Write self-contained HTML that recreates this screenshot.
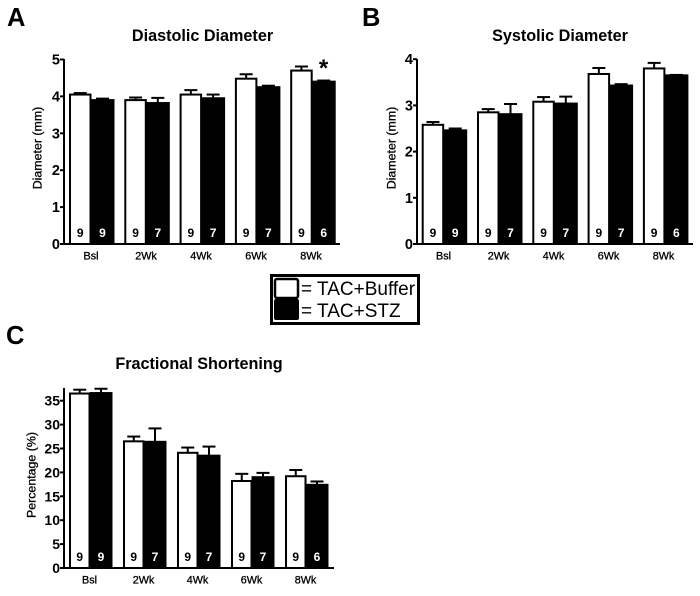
<!DOCTYPE html>
<html>
<head>
<meta charset="utf-8">
<style>
html,body{margin:0;padding:0;background:#fff;}
svg{display:block;}
text{font-family:"Liberation Sans",Arial,sans-serif;fill:#000;}
</style>
</head>
<body>
<svg id="fig" width="700" height="596" viewBox="0 0 700 596" xmlns="http://www.w3.org/2000/svg">
  <rect width="700" height="596" fill="#fff"/>
  <text x="7" y="26" font-size="25.5" font-weight="bold">A</text>
  <text x="362" y="26" font-size="25.5" font-weight="bold">B</text>
  <text x="6" y="344" font-size="25.5" font-weight="bold">C</text>
  <g>
    <rect x="271.5" y="275.5" width="147" height="48" fill="#fff" stroke="#000" stroke-width="3"/>
    <rect x="275" y="279" width="23" height="19" rx="2" fill="#fff" stroke="#000" stroke-width="2.5"/>
    <rect x="274" y="299" width="25" height="21" rx="2" fill="#000"/>
    <text x="301" y="295" font-size="19">= TAC+Buffer</text>
    <text x="301" y="317" font-size="19">= TAC+STZ</text>
  </g>
</svg>
<script>
var categories = ["Bsl", "2Wk", "4Wk", "6Wk", "8Wk"];
var bufferCounts = [9, 9, 9, 9, 9];
var stzCounts = [9, 7, 7, 7, 6];

var diastolicTicks = [0, 1, 2, 3, 4, 5];
var diastolicBuffer = [4.05, 3.90, 4.05, 4.48, 4.70];
var diastolicBufferErr = [0.04, 0.07, 0.12, 0.12, 0.11];
var diastolicStz = [3.90, 3.82, 3.95, 4.25, 4.40];
var diastolicStzErr = [0.04, 0.14, 0.10, 0.04, 0.03];

var systolicTicks = [0, 1, 2, 3, 4];
var systolicBuffer = [2.58, 2.85, 3.08, 3.68, 3.80];
var systolicBufferErr = [0.06, 0.07, 0.10, 0.13, 0.12];
var systolicStz = [2.46, 2.81, 3.04, 3.43, 3.65];
var systolicStzErr = [0.04, 0.22, 0.15, 0.03, 0.01];

var fractionalTicks = [0, 5, 10, 15, 20, 25, 30, 35];
var fractionalBuffer = [36.5, 26.5, 24.1, 18.2, 19.2];
var fractionalBufferErr = [0.8, 1.0, 1.1, 1.5, 1.3];
var fractionalStz = [36.6, 26.4, 23.5, 19.0, 17.4];
var fractionalStzErr = [0.9, 2.8, 1.9, 0.9, 0.7];

var NS = "http://www.w3.org/2000/svg";
var fig = document.getElementById("fig");

function make(parent, tag, attrs, txt) {
  var el = document.createElementNS(NS, tag);
  for (var k in attrs) el.setAttribute(k, attrs[k]);
  if (txt !== undefined) el.textContent = txt;
  parent.appendChild(el);
  return el;
}

function drawPanel(p) {
  var g = make(fig, "g", {});
  
  

  function y(v) { return p.y0 - (v / p.unit) * p.unitPx; }
  function x(i) { return p.firstBar + i * p.pitch; }

  var title = make(g, "text", {x: p.titleX, y: p.titleY, "font-size": 16.2, "font-weight": "bold", "text-anchor": "middle"}, p.title);
  
  

  var yTitle = make(g, "text", {transform: "translate(" + p.yTitleX + "," + p.yTitleY + ") rotate(-90)", "font-size": 12.4, "text-anchor": "middle", stroke: "#000", "stroke-width": 0.3}, p.yLabel);
  
  

  categories.forEach(function (cat, i) {
    var group = make(g, "g", {});
    
    

    function series(vals, errs, counts, left, width, isStz) {
      var top = y(vals[i]);
      var errTop = y(vals[i] + errs[i]);
      var cx = left + width / 2;
      var errLine = make(group, "line", {x1: cx, x2: cx, y1: top, y2: errTop, stroke: "#000", "stroke-width": 2});
      
      
      var cap = make(group, "line", {x1: cx - 6.5, x2: cx + 6.5, y1: errTop, y2: errTop, stroke: "#000", "stroke-width": 2});
      
      
      var bar = make(group, "rect", {x: left + 1, y: top, width: width - 2, height: p.y0 - top, fill: isStz ? "#000" : "#fff", stroke: "#000", "stroke-width": 2});
      
      
      var n = make(group, "text", {x: cx, y: p.y0 - 7, "font-size": 12, "font-weight": "bold", "text-anchor": "middle", style: "fill:" + (isStz ? "#fff" : "#000")}, counts[i]);
      
      
    }
    series(p.buffer, p.bufferErr, bufferCounts, x(i), p.barW, false);
    series(p.stz, p.stzErr, stzCounts, x(i) + p.barW - 1, p.barW + 1.5, true);

    var lab = make(group, "text", {x: p.catX + i * p.catPitch, y: p.y0 + 15.5, "font-size": 10.8, "text-anchor": "middle", stroke: "#000", "stroke-width": 0.3}, cat);
    
    
  });

  var yAxis = make(g, "line", {x1: p.axisX, x2: p.axisX, y1: p.y0 + 1, y2: p.axisTop, stroke: "#000", "stroke-width": 2});
  
  
  var xAxis = make(g, "line", {x1: p.axisX - 4, x2: p.axisEnd, y1: p.y0, y2: p.y0, stroke: "#000", "stroke-width": 2});
  
  

  p.ticks.forEach(function (t) {
    var tick = make(g, "line", {x1: p.axisX - 4, x2: p.axisX, y1: y(t), y2: y(t), stroke: "#000", "stroke-width": 2});
    
    
    var lab = make(g, "text", {x: p.axisX - 4, y: y(t) + 5, "font-size": p.tickSize, "font-weight": "bold", "text-anchor": "end"}, t);
    
    
  });
}

drawPanel({key: "diastolic", title: "Diastolic Diameter", titleX: 202.5, titleY: 41,
  yLabel: "Diameter (mm)", yTitleX: 41.5, yTitleY: 148, tickSize: 14.5,
  buffer: diastolicBuffer, bufferErr: diastolicBufferErr, stz: diastolicStz, stzErr: diastolicStzErr, ticks: diastolicTicks,
  unit: 1, unitPx: 36.9, y0: 244, axisX: 64, axisTop: 59, axisEnd: 340,
  firstBar: 69, pitch: 55.3, barW: 22.5, catX: 91, catPitch: 55});

drawPanel({key: "systolic", title: "Systolic Diameter", titleX: 560, titleY: 41,
  yLabel: "Diameter (mm)", yTitleX: 395.5, yTitleY: 148, tickSize: 14.5,
  buffer: systolicBuffer, bufferErr: systolicBufferErr, stz: systolicStz, stzErr: systolicStzErr, ticks: systolicTicks,
  unit: 1, unitPx: 46.2, y0: 244, axisX: 417, axisTop: 59, axisEnd: 693,
  firstBar: 421.7, pitch: 55.3, barW: 22.5, catX: 443.5, catPitch: 55});

drawPanel({key: "fractional", title: "Fractional Shortening", titleX: 199, titleY: 369,
  yLabel: "Percentage (%)", yTitleX: 35.5, yTitleY: 475, tickSize: 14,
  buffer: fractionalBuffer, bufferErr: fractionalBufferErr, stz: fractionalStz, stzErr: fractionalStzErr, ticks: fractionalTicks,
  unit: 5, unitPx: 23.9, y0: 568, axisX: 64, axisTop: 388, axisEnd: 334,
  firstBar: 69, pitch: 54, barW: 21.5, catX: 89.5, catPitch: 54});

var star = make(fig, "text", {x: 323.5, y: 76, "font-size": 24, "font-weight": "bold", "text-anchor": "middle"}, "*");


</script>
</body>
</html>
